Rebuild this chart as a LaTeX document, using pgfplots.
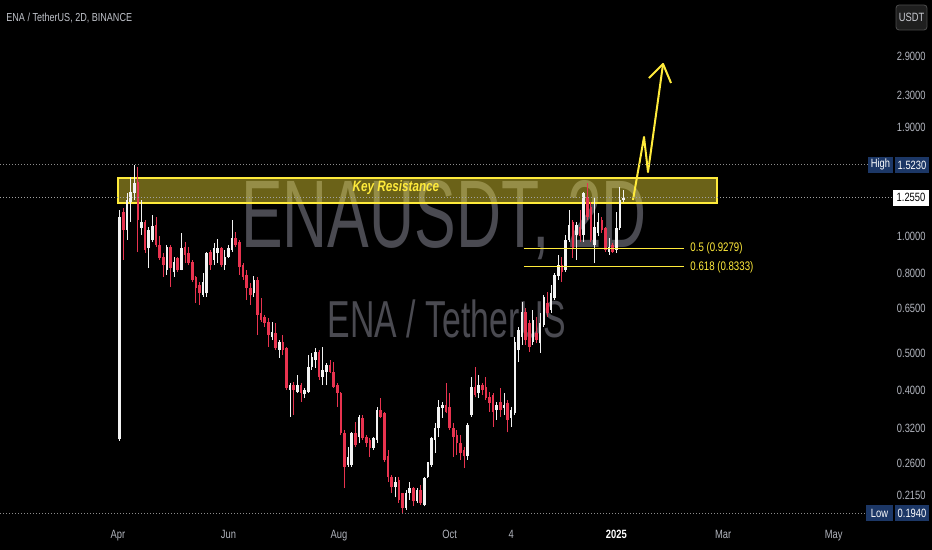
\documentclass[border=0pt]{standalone}
\usepackage{pgfplots}
\usepackage{pgfplotstable}
\usepackage{fontspec}
\pgfplotsset{compat=1.18}
\setmainfont{Liberation Sans}[FakeStretch=0.78]
\newfontfamily\wmfont{Liberation Sans}[FakeStretch=0.65]

\definecolor{bg}{HTML}{000000}
\definecolor{upc}{HTML}{F2F2F2}
\definecolor{dnc}{HTML}{E8334F}
\definecolor{ylw}{HTML}{FFEB3B}
\definecolor{tickc}{HTML}{B2B5BE}
\definecolor{wm}{HTML}{4A4A51}
\definecolor{tagblue}{HTML}{1C3766}
\definecolor{dotc}{HTML}{8C8C8C}

% 2D candles, d = days since 1 Apr 2024
\pgfplotstableread{
d o h l c
1 0.300 1.166 0.298 1.120
3 1.152 1.180 0.868 1.036
5 1.036 1.290 0.977 1.237
7 1.222 1.418 1.086 1.298
9 1.290 1.523 1.237 1.368
11 1.377 1.504 0.910 1.099
13 1.048 1.237 1.006 1.086
15 1.086 1.099 0.905 0.921
17 0.931 1.054 0.827 1.036
19 0.977 1.132 0.965 1.061
21 1.067 1.119 0.937 0.948
23 0.948 1.000 0.868 0.878
25 0.883 0.905 0.785 0.842
27 0.818 0.948 0.794 0.937
29 0.937 0.948 0.739 0.827
31 0.808 0.883 0.785 0.858
33 0.878 0.883 0.808 0.818
35 0.818 1.018 0.816 0.931
37 0.937 0.965 0.852 0.894
39 0.905 0.937 0.842 0.852
41 0.858 0.868 0.762 0.771
43 0.785 0.790 0.673 0.735
45 0.748 0.762 0.665 0.713
47 0.705 0.803 0.697 0.762
49 0.713 0.910 0.697 0.905
51 0.910 0.921 0.818 0.842
53 0.868 0.959 0.842 0.931
55 0.905 0.983 0.852 0.931
57 0.931 0.937 0.832 0.842
59 0.842 0.921 0.818 0.883
61 0.883 0.948 0.878 0.931
63 0.921 1.099 0.910 0.989
65 0.989 1.024 0.937 0.948
67 0.965 0.977 0.794 0.832
69 0.842 0.852 0.771 0.785
71 0.794 0.818 0.685 0.735
73 0.735 0.757 0.665 0.705
75 0.713 0.790 0.697 0.771
77 0.771 0.785 0.557 0.627
79 0.634 0.693 0.601 0.608
81 0.620 0.627 0.584 0.597
83 0.601 0.616 0.519 0.557
85 0.550 0.601 0.540 0.566
87 0.564 0.597 0.509 0.515
89 0.509 0.540 0.486 0.534
91 0.534 0.557 0.495 0.509
93 0.515 0.519 0.402 0.407
95 0.402 0.419 0.343 0.414
97 0.414 0.422 0.347 0.402
99 0.397 0.439 0.395 0.414
101 0.414 0.419 0.375 0.395
103 0.392 0.407 0.383 0.402
105 0.397 0.495 0.395 0.460
107 0.460 0.501 0.453 0.489
109 0.480 0.515 0.458 0.503
111 0.503 0.509 0.427 0.434
113 0.434 0.519 0.414 0.453
115 0.448 0.472 0.414 0.466
117 0.466 0.480 0.444 0.448
119 0.448 0.474 0.407 0.409
121 0.414 0.419 0.364 0.395
123 0.395 0.397 0.308 0.311
125 0.311 0.317 0.225 0.255
127 0.258 0.287 0.255 0.271
129 0.258 0.313 0.255 0.311
131 0.311 0.333 0.287 0.290
133 0.304 0.347 0.294 0.343
135 0.341 0.347 0.299 0.302
137 0.304 0.308 0.287 0.294
139 0.299 0.302 0.271 0.285
141 0.285 0.304 0.282 0.302
143 0.299 0.364 0.294 0.357
145 0.357 0.383 0.340 0.343
147 0.351 0.353 0.263 0.266
149 0.272 0.282 0.233 0.240
151 0.240 0.243 0.219 0.226
153 0.226 0.240 0.213 0.233
155 0.236 0.240 0.206 0.210
157 0.218 0.219 0.194 0.200
159 0.200 0.222 0.198 0.219
161 0.219 0.233 0.210 0.225
163 0.225 0.226 0.202 0.208
165 0.208 0.225 0.206 0.222
167 0.222 0.229 0.204 0.206
169 0.204 0.240 0.202 0.239
171 0.240 0.263 0.239 0.262
173 0.258 0.304 0.255 0.302
175 0.299 0.331 0.277 0.321
177 0.321 0.379 0.304 0.364
179 0.361 0.375 0.341 0.368
181 0.368 0.419 0.351 0.353
183 0.364 0.395 0.317 0.321
185 0.321 0.331 0.271 0.304
187 0.308 0.317 0.274 0.294
189 0.294 0.308 0.266 0.277
191 0.282 0.287 0.253 0.272
193 0.272 0.331 0.266 0.327
195 0.347 0.434 0.343 0.409
197 0.409 0.460 0.385 0.390
199 0.395 0.439 0.383 0.414
201 0.414 0.419 0.390 0.402
203 0.409 0.434 0.379 0.383
205 0.385 0.397 0.353 0.372
207 0.390 0.395 0.323 0.353
209 0.357 0.375 0.337 0.368
211 0.375 0.407 0.343 0.357
213 0.361 0.395 0.347 0.368
215 0.372 0.379 0.313 0.337
217 0.341 0.364 0.323 0.357
219 0.351 0.550 0.347 0.534
221 0.509 0.584 0.474 0.573
223 0.550 0.677 0.525 0.637
225 0.637 0.653 0.525 0.540
227 0.597 0.608 0.503 0.519
229 0.534 0.645 0.525 0.608
231 0.564 0.620 0.530 0.540
233 0.530 0.634 0.501 0.597
235 0.591 0.705 0.584 0.697
237 0.673 0.718 0.620 0.634
239 0.645 0.748 0.634 0.713
241 0.693 0.803 0.685 0.794
243 0.790 0.894 0.771 0.842
245 0.842 0.883 0.762 0.808
247 0.818 1.006 0.808 0.977
249 0.977 1.166 0.965 1.067
251 1.086 1.099 0.878 0.931
253 1.006 1.086 0.868 1.067
255 1.054 1.166 0.965 1.000
257 1.006 1.298 0.965 1.290
259 1.260 1.368 1.099 1.119
261 1.187 1.222 0.965 0.977
263 0.948 1.252 0.852 1.054
265 1.018 1.145 1.000 1.086
267 1.099 1.119 1.018 1.036
269 1.048 1.054 0.910 0.921
271 0.910 0.989 0.894 0.937
273 0.948 0.959 0.905 0.910
275 0.921 1.152 0.905 1.048
277 1.048 1.336 1.036 1.237
279 1.240 1.313 1.222 1.255
}\candles

\pgfplotsset{
  candle/.style n args={2}{draw=none, mark=none, forget plot,
    error bars/.cd, y dir=plus, y explicit, error mark=none,
    error bar style={draw=#1, line width=#2, line cap=butt}},
  up only/.style={x filter/.expression={\thisrow{c}>=\thisrow{o} ? x : nan}},
  down only/.style={x filter/.expression={\thisrow{c}<\thisrow{o} ? x : nan}},
}

\begin{document}
\begin{tikzpicture}
\useasboundingbox (0,-14pt) rectangle (466pt,261pt);
\fill[bg] (0,-14pt) rectangle (466pt,261pt);

% watermark
\node[text=wm, anchor=base, inner sep=0pt, font=\wmfont\fontsize{48}{48}\selectfont] at (222pt,137pt) {ENAUSDT, 2D};
\node[text=wm, anchor=base, inner sep=0pt, font=\wmfont\fontsize{26}{26}\selectfont] at (223.5pt,92pt) {ENA / TetherUS};

% title
\node[anchor=base west, inner sep=0pt, text=tickc!80!white, font=\fontsize{5.8}{6}\selectfont] at (3pt,250pt) {ENA / TetherUS, 2D, BINANCE};

\begin{axis}[
  at={(0,0)}, anchor=south west,
  scale only axis, width=433pt, height=261pt,
  xmin=-65.1, xmax=412.8,
  ymode=log, ymin=0.1841, ymax=4.041,
  axis line style={draw=none},
  tick style={draw=none},
  clip=false,
  xtick={0,61,122,183,217,275,334,395},
  xticklabels={Apr,Jun,Aug,Oct,4,{\bfseries\color{white}2025},Mar,May},
  xticklabel style={font=\fontsize{6}{7}\selectfont, text=tickc, anchor=base, inner sep=0pt, yshift=-8.5pt},
  ytick={0.215,0.26,0.32,0.4,0.5,0.65,0.8,1,1.9,2.3,2.9},
  yticklabels={0.2150,0.2600,0.3200,0.4000,0.5000,0.6500,0.8000,1.0000,1.9000,2.3000,2.9000},
  yticklabel pos=right,
  yticklabel style={font=\fontsize{6}{7}\selectfont, text=tickc, anchor=east, inner sep=0pt, xshift=30pt},
]
% key resistance zone
\fill[ylw, fill opacity=0.42] (axis cs:0,1.216) rectangle (axis cs:330.6,1.41);
\draw[ylw, line width=0.8pt] (axis cs:0,1.216) rectangle (axis cs:330.6,1.41);

% candle wicks
\addplot[up only, candle={upc}{0.45pt}]
  table[x=d, y=l, y error plus expr=\thisrow{h}-\thisrow{l}] {\candles};
\addplot[down only, candle={dnc}{0.45pt}]
  table[x=d, y=l, y error plus expr=\thisrow{h}-\thisrow{l}] {\candles};
% candle bodies
\addplot[up only, candle={upc}{1.3pt}]
  table[x=d, y expr={min(\thisrow{o},\thisrow{c})},
        y error plus expr={max(abs(\thisrow{c}-\thisrow{o}),0.004*\thisrow{o})}] {\candles};
\addplot[down only, candle={dnc}{1.3pt}]
  table[x=d, y expr={min(\thisrow{o},\thisrow{c})},
        y error plus expr={max(abs(\thisrow{c}-\thisrow{o}),0.004*\thisrow{o})}] {\candles};

\node[text=ylw, font=\bfseries\itshape\fontsize{7.5}{8}\selectfont] at (axis cs:153.4,1.328) {Key Resistance};

% fibonacci levels
\draw[ylw, line width=0.5pt] (axis cs:224,0.9279) -- (axis cs:312.4,0.9279);
\draw[ylw, line width=0.5pt] (axis cs:224,0.8333) -- (axis cs:312.4,0.8333);
\node[anchor=west, inner sep=0pt, text=ylw, font=\fontsize{6.2}{7}\selectfont] at (axis cs:315.7,0.9279) {0.5 (0.9279)};
\node[anchor=west, inner sep=0pt, text=ylw, font=\fontsize{6.2}{7}\selectfont] at (axis cs:315.7,0.8333) {0.618 (0.8333)};

% projected path
\draw[ylw, line width=1pt, line join=round] (axis cs:284.2,1.237) -- (axis cs:290.3,1.796) -- (axis cs:292.5,1.460) -- (axis cs:300.8,2.767);
\draw[ylw, line width=1pt, line join=round] (axis cs:293.0,2.547) -- (axis cs:300.8,2.767) -- (axis cs:305.2,2.473);

% high / last / low lines
\draw[dotc, line width=0.5pt, dash pattern=on 0.5pt off 1pt] (axis cs:-65.1,1.523) -- (axis cs:413.5,1.523);
\draw[dotc!80!white, line width=0.5pt, dash pattern=on 0.5pt off 1pt] (axis cs:-65.1,1.255) -- (axis cs:427.7,1.255);
\draw[dotc, line width=0.5pt, dash pattern=on 0.5pt off 1pt] (axis cs:-65.1,0.194) -- (axis cs:412.8,0.194);
\coordinate (hiR) at (axis cs:412.8,1.523);
\coordinate (lastR) at (axis cs:412.8,1.255);
\coordinate (loR) at (axis cs:412.8,0.194);
\end{axis}

% price tags
\begin{scope}[font=\fontsize{6}{7}\selectfont]
\fill[tagblue] ([xshift=1pt,yshift=-4pt]hiR) rectangle ([xshift=13.5pt,yshift=4pt]hiR);
\fill[tagblue] ([xshift=14.5pt,yshift=-4pt]hiR) rectangle ([xshift=31.5pt,yshift=4pt]hiR);
\node[text=white] at ([xshift=7.25pt]hiR) {High};
\node[text=white] at ([xshift=23pt]hiR) {1.5230};
\fill[white] ([xshift=13.5pt,yshift=-4pt]lastR) rectangle ([xshift=31.5pt,yshift=4pt]lastR);
\node[text=black] at ([xshift=22.5pt]lastR) {1.2550};
\fill[tagblue] ([xshift=0pt,yshift=-4pt]loR) rectangle ([xshift=13.5pt,yshift=4pt]loR);
\fill[tagblue] ([xshift=14.5pt,yshift=-4pt]loR) rectangle ([xshift=31.5pt,yshift=4pt]loR);
\node[text=white] at ([xshift=6.75pt]loR) {Low};
\node[text=white] at ([xshift=23pt]loR) {0.1940};
\filldraw[fill=black!88!white, draw=black!70!white, rounded corners=1.5pt] (448pt,246pt) rectangle (463.5pt,258.5pt);
\node[text=tickc!70!white] at (455.75pt,252.25pt) {USDT};
\end{scope}
\end{tikzpicture}
\end{document}
